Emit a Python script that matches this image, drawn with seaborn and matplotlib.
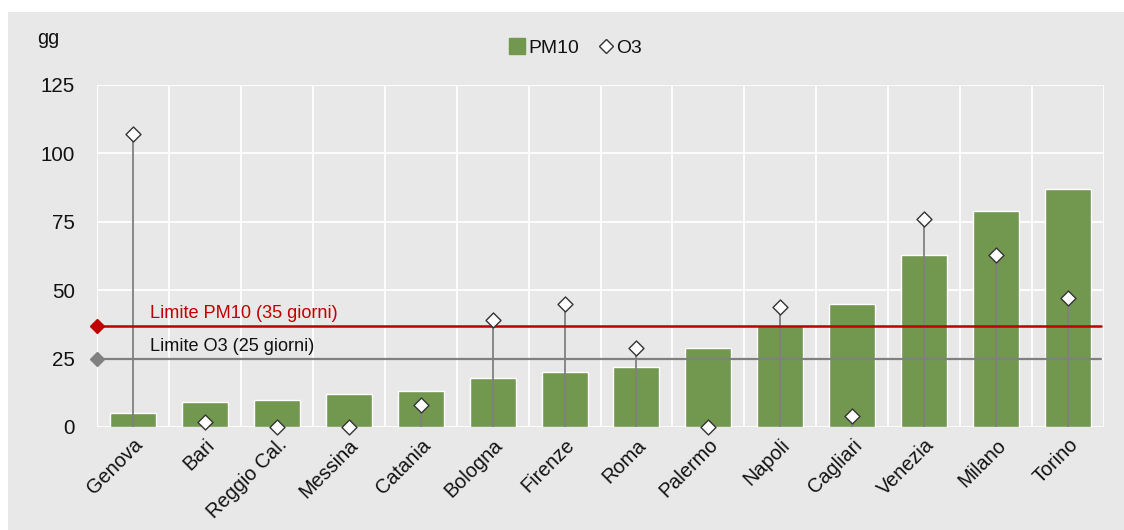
import matplotlib
matplotlib.use("Agg")
import matplotlib.pyplot as plt
from matplotlib.lines import Line2D
from matplotlib.patches import Rectangle
import seaborn as sns
import pandas as pd

cities = ["Genova", "Bari", "Reggio Cal.", "Messina", "Catania", "Bologna", "Firenze",
          "Roma", "Palermo", "Napoli", "Cagliari", "Venezia", "Milano", "Torino"]
pm10 = [5, 9, 10, 12, 13, 18, 20, 22, 29, 37, 45, 63, 79, 87]
o3 = [107, 2, 0, 0, 8, 39, 45, 29, 0, 44, 4, 76, 63, 47]
limit_pm10 = 37
limit_o3 = 25
limit_pm10_label = "Limite PM10 (35 giorni)"
limit_o3_label = "Limite O3 (25 giorni)"
y_ticks = [0, 25, 50, 75, 100, 125]
y_unit = "gg"

BG = "#e8e8e8"
GREEN = "#72974f"
RED = "#c00000"
GREY = "#808080"
TXT = "#111111"

sns.set_theme(style="white")
plt.rcParams["font.family"] = ["Liberation Sans", "DejaVu Sans"]
sc = 0.87

df = pd.DataFrame({"city": cities, "pm10": pm10, "o3": o3})

fig = plt.figure(figsize=(11.24, 5.30), dpi=100, facecolor="white")
fig.patches.append(Rectangle((8 / 1124, 0), 1 - 8 / 1124, 1 - 12 / 530,
                             transform=fig.transFigure, facecolor=BG,
                             edgecolor="none", zorder=-10))
ax = fig.add_axes([97 / 1124, 1 - 427 / 530, (1104 - 97) / 1124, (427 - 85) / 530])
ax.set_facecolor(BG)

sns.barplot(data=df, x="city", y="pm10", color=GREEN, saturation=1, width=0.64,
            ax=ax, zorder=2)
xs = list(range(len(cities)))
ax.vlines(xs, 0, o3, color=GREY, lw=1.3, zorder=3)
ax.axhline(limit_o3, color=GREY, lw=1.6, zorder=4, xmax=0.997)
ax.axhline(limit_pm10, color=RED, lw=1.8, zorder=4, xmax=0.997)
ax.plot([-0.5], [limit_pm10], marker="D", color=RED, ms=7.5, clip_on=False, zorder=6)
ax.plot([-0.5], [limit_o3], marker="D", color=GREY, ms=7.5, clip_on=False, zorder=6)
sns.scatterplot(data=df, x="city", y="o3", marker="D", s=58, color="white",
                edgecolor="#333333", linewidth=1.0, ax=ax, zorder=5, clip_on=False)

ax.text(0.23, limit_pm10 + 1.3, limit_pm10_label, color=RED, fontsize=15 * sc,
        va="bottom", ha="left", zorder=7)
ax.text(0.23, limit_o3 + 1.3, limit_o3_label, color=TXT, fontsize=15 * sc,
        va="bottom", ha="left", zorder=7)

ax.set_xlim(-0.5, len(cities) - 0.5)
ax.set_ylim(0, 125)
ax.set_yticks(y_ticks)
ax.set_yticklabels([str(v) for v in y_ticks], fontsize=17 * sc, color=TXT)
ax.set_xticks(xs)
ax.set_xticklabels(cities, rotation=45, ha="right", rotation_mode="anchor",
                   fontsize=16.5 * sc, color=TXT)
ax.set_xticks([x + 0.5 for x in range(-1, len(cities))], minor=True)
ax.tick_params(axis="both", which="both", length=0)
ax.tick_params(axis="y", pad=16)
ax.tick_params(axis="x", pad=6)
ax.grid(False)
ax.grid(True, axis="y", which="major", color="white", lw=1.3, zorder=0)
ax.grid(True, axis="x", which="minor", color="white", lw=1.3, zorder=0)
ax.set_axisbelow(True)
for s in ax.spines.values():
    s.set_visible(False)
ax.set_xlabel("")
ax.set_ylabel("")

fig.text(37 / 1124, 1 - 39 / 530, y_unit, fontsize=16.5 * sc, color=TXT,
         va="center", ha="left")

handles = [Line2D([], [], marker="s", ls="none", color=GREEN, ms=11),
           Line2D([], [], marker="D", ls="none", mfc="white", mec="#333333", ms=7,
                  mew=1.0)]
fig.legend(handles, ["PM10", "O3"], loc="center", bbox_to_anchor=(575 / 1124, 1 - 48 / 530),
           ncol=2, frameon=False, fontsize=16 * sc, handletextpad=0.05,
           columnspacing=0.9, handlelength=1.0, labelcolor=TXT)

fig.savefig("out.png", dpi=100, facecolor="white")
